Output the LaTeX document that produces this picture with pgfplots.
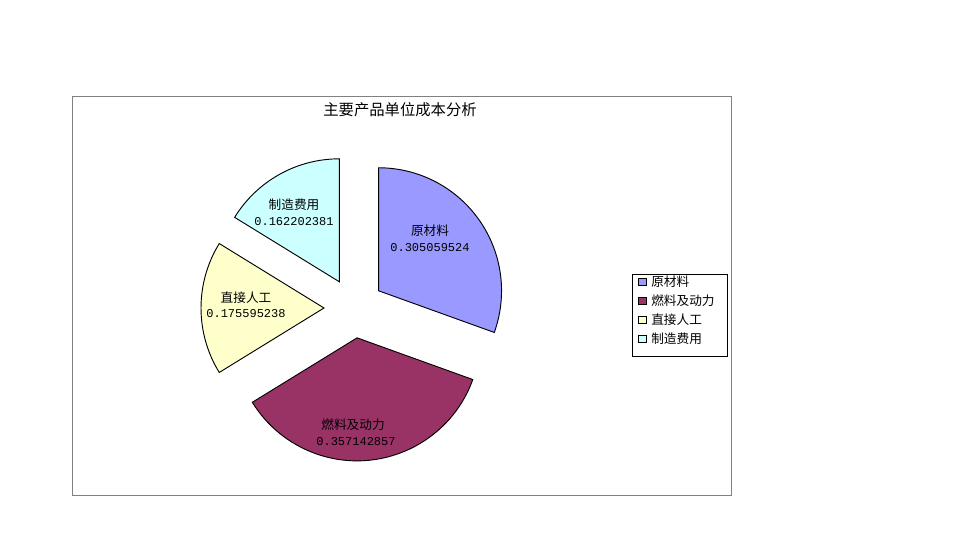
\documentclass[border=0pt]{standalone}
\usepackage{pgfplots}
\pgfplotsset{compat=1.18}
\usepackage{pgfplotstable}
\usepackage{fontspec}
\setmainfont{Noto Sans CJK SC}
\newfontfamily\numfont{Liberation Mono}

% share of unit cost, clockwise from 12 o'clock
\pgfplotstableread{
item value
1 0.305059524
2 0.357142857
3 0.175595238
4 0.162202381
}\costtable

\definecolor{cA}{HTML}{9999FF}
\definecolor{cB}{HTML}{993366}
\definecolor{cC}{HTML}{FFFFCC}
\definecolor{cD}{HTML}{CCFFFF}

% pie centre (px, y up), radius and explode distance in pt (1px = 0.75pt)
\def\cx{354}
\def\cy{232}
\def\rad{92.25pt}
\def\expl{22.5pt}

\newcommand\slice[3]{%
  \pgfmathsetmacro\midang{(#1+#2)/2}%
  \edef\tmp{\noexpand\filldraw[fill=#3, draw=black, line width=0.7pt]
    ([shift={(\midang:\expl)}]axis cs:\cx,\cy) -- ++(#1:\rad)
    arc[start angle=#1, end angle=#2, radius=\rad] -- cycle;}%
  \tmp}

\begin{document}
\begin{tikzpicture}
% cumulative angles from the table
\pgfplotstablegetelem{0}{value}\of\costtable \let\vA\pgfplotsretval
\pgfplotstablegetelem{1}{value}\of\costtable \let\vB\pgfplotsretval
\pgfplotstablegetelem{2}{value}\of\costtable \let\vC\pgfplotsretval
\pgfplotstablegetelem{3}{value}\of\costtable \let\vD\pgfplotsretval
\pgfmathsetmacro\aA{90-360*\vA}
\pgfmathsetmacro\aB{\aA-360*\vB}
\pgfmathsetmacro\aC{\aB-360*\vC}
\pgfmathsetmacro\aD{\aC-360*\vD}
\begin{axis}[
    width=720pt, height=405pt,
    scale only axis,
    xmin=0, xmax=960, ymin=0, ymax=540,
    hide axis,
    clip=false,
]
    \fill[white] (axis cs:0,0) rectangle (axis cs:960,540);
    % chart frame
    \draw[gray, line width=0.75pt] (axis cs:72,45) rectangle (axis cs:731,443);
    \node[font=\fontsize{11.5pt}{13pt}\selectfont] at (axis cs:400,430) {主要产品单位成本分析};

    \slice{90}{\aA}{cA}
    \slice{\aA}{\aB}{cB}
    \slice{\aB}{\aC}{cC}
    \slice{\aC}{\aD}{cD}

    % data labels
    \node[font=\fontsize{9.5pt}{11pt}\selectfont] at (axis cs:430,309) {原材料};
    \node[font=\numfont\fontsize{9pt}{11pt}\selectfont] at (axis cs:430,292) {0.305059524};
    \node[font=\fontsize{9.5pt}{11pt}\selectfont] at (axis cs:353,115) {燃料及动力};
    \node[font=\numfont\fontsize{9pt}{11pt}\selectfont] at (axis cs:356,98) {0.357142857};
    \node[font=\fontsize{9.5pt}{11pt}\selectfont] at (axis cs:246,242) {直接人工};
    \node[font=\numfont\fontsize{9pt}{11pt}\selectfont] at (axis cs:246,226) {0.175595238};
    \node[font=\fontsize{9.5pt}{11pt}\selectfont] at (axis cs:294,335) {制造费用};
    \node[font=\numfont\fontsize{9pt}{11pt}\selectfont] at (axis cs:294,318) {0.162202381};

    % legend
    \draw[black, line width=0.75pt] (axis cs:632,266) rectangle (axis cs:727,184);
    \filldraw[fill=cA, draw=black, line width=0.6pt] (axis cs:638,254.5) rectangle (axis cs:646,261.5);
    \filldraw[fill=cB, draw=black, line width=0.6pt] (axis cs:638,236) rectangle (axis cs:646,243);
    \filldraw[fill=cC, draw=black, line width=0.6pt] (axis cs:638,216.5) rectangle (axis cs:646,223.5);
    \filldraw[fill=cD, draw=black, line width=0.6pt] (axis cs:638,197.5) rectangle (axis cs:646,204.5);
    \node[anchor=west, inner sep=0pt, font=\fontsize{9.5pt}{11pt}\selectfont] at (axis cs:651,258) {原材料};
    \node[anchor=west, inner sep=0pt, font=\fontsize{9.5pt}{11pt}\selectfont] at (axis cs:651,239.5) {燃料及动力};
    \node[anchor=west, inner sep=0pt, font=\fontsize{9.5pt}{11pt}\selectfont] at (axis cs:651,220) {直接人工};
    \node[anchor=west, inner sep=0pt, font=\fontsize{9.5pt}{11pt}\selectfont] at (axis cs:651,201) {制造费用};
\end{axis}
\end{tikzpicture}
\end{document}
